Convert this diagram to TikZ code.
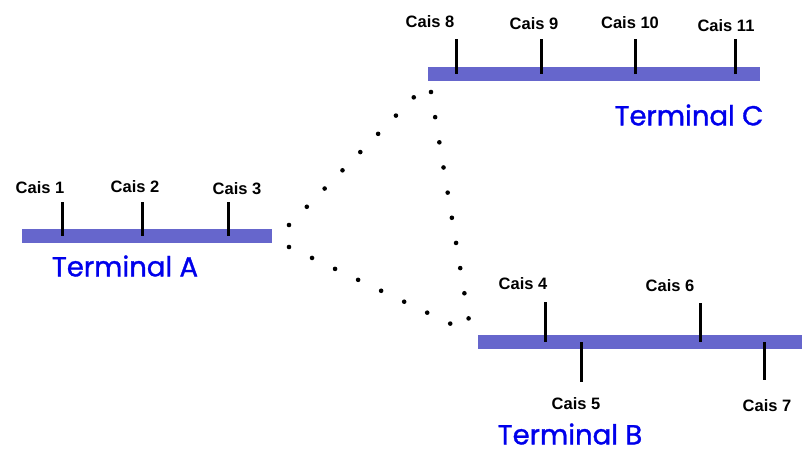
\documentclass[tikz,border=0pt]{standalone}
\usepackage{fontspec}
\setmainfont{Liberation Sans}
\newfontfamily\termfont[FakeBold=1.2]{Poppins}
\definecolor{barblue}{RGB}{102,102,204}
\definecolor{termblue}{RGB}{0,0,235}
\begin{document}
\begin{tikzpicture}[x=1pt,y=-1pt,
  bar/.style={fill=barblue,draw=none,inner sep=0pt,minimum height=14pt},
  tick/.style={line width=3pt,black},
  cais/.style={font=\fontsize{16.5}{16.5}\selectfont\bfseries,inner sep=0pt},
  term/.style={font=\termfont\fontsize{27.5}{27.5}\selectfont,text=termblue,inner sep=0pt},
  dots/.style={line width=4.6pt,line cap=round,dash pattern=on 0pt off 25.5pt}]
\useasboundingbox (0,0) rectangle (802,453);
% Terminal A
\node[bar,minimum width=250pt] (barA) at (147,236) {};
\node[term] (tA) at (125,266) {Terminal A};
\coordinate (a1t) at (62,202); \coordinate (a1b) at (62,236);
\coordinate (a2t) at (142,202); \coordinate (a2b) at (142,236);
\coordinate (a3t) at (228,202); \coordinate (a3b) at (228,236);
\draw[tick] (a1t) -- (a1b); \draw[tick] (a2t) -- (a2b); \draw[tick] (a3t) -- (a3b);
\node[cais] (c1) at (40,188) {Cais 1};
\node[cais] (c2) at (135,187) {Cais 2};
\node[cais] (c3) at (237,189) {Cais 3};
% Terminal C
\node[bar,minimum width=332pt] (barC) at (594,74) {};
\node[term] (tC) at (689,115) {Terminal C};
\foreach \x/\n in {456/8,541/9,635/10,735/11}{
  \coordinate (ct\n) at (\x,39); \coordinate (cb\n) at (\x,74);
  \draw[tick] (ct\n) -- (cb\n);}
\node[cais] (c8) at (430,22) {Cais 8};
\node[cais] (c9) at (534,24) {Cais 9};
\node[cais] (c10) at (630,23) {Cais 10};
\node[cais] (c11) at (726,26) {Cais 11};
% Terminal B
\node[bar,minimum width=324pt] (barB) at (640,342) {};
\node[term] (tB) at (570,434) {Terminal B};
\coordinate (b4t) at (545,302); \coordinate (b4b) at (545,342);
\coordinate (b5t) at (581,342); \coordinate (b5b) at (581,382);
\coordinate (b6t) at (700,303); \coordinate (b6b) at (700,342);
\coordinate (b7t) at (764,342); \coordinate (b7b) at (764,380);
\draw[tick] (b4t) -- (b4b); \draw[tick] (b5t) -- (b5b);
\draw[tick] (b6t) -- (b6b); \draw[tick] (b7t) -- (b7b);
\node[cais] (c4) at (523,284) {Cais 4};
\node[cais] (c5) at (576,404) {Cais 5};
\node[cais] (c6) at (670,286) {Cais 6};
\node[cais] (c7) at (767,406) {Cais 7};
% dotted links
\coordinate (pA1) at (289,225); \coordinate (pC1) at (418,93);
\coordinate (pA2) at (289,247); \coordinate (pB1) at (470,333);
\coordinate (pC2) at (431,92);  \coordinate (pB2) at (470,327);
\draw[dots] (pA1) -- (pC1);
\draw[dots] (pA2) -- (pB1);
\draw[dots] (pC2) -- (pB2);
\end{tikzpicture}
\end{document}
